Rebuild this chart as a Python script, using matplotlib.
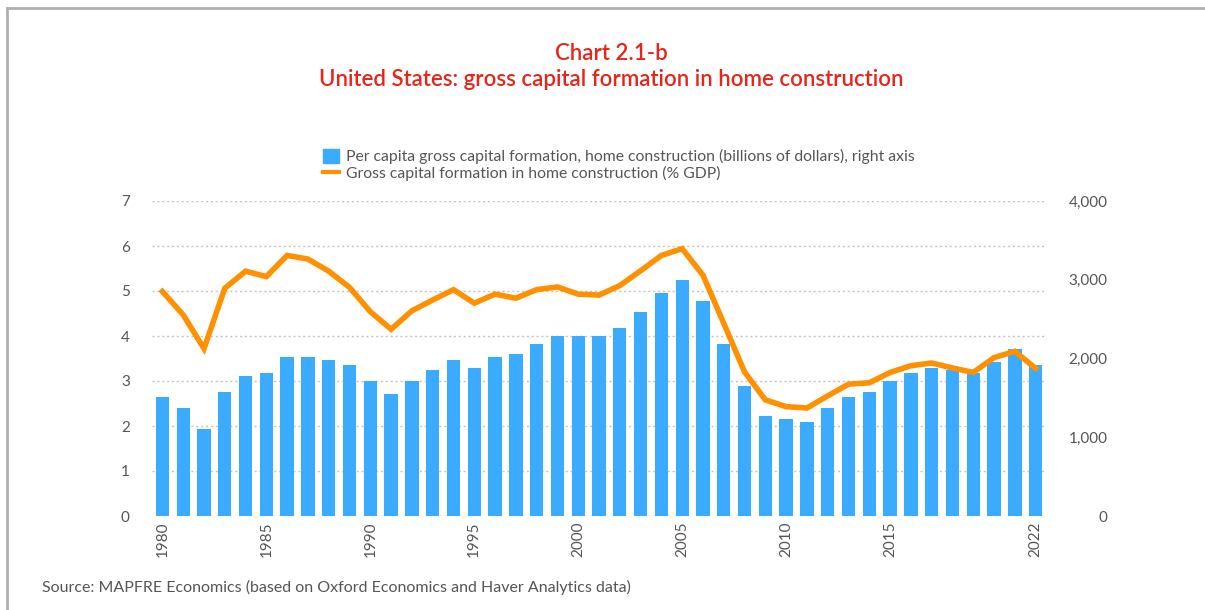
import numpy as np
import matplotlib.pyplot as plt
from matplotlib.lines import Line2D
from matplotlib.patches import Patch
from matplotlib.ticker import FuncFormatter

years = list(range(1980, 2023))
# per capita gross capital formation, home construction (right axis)
per_capita = [1506, 1366, 1099, 1570, 1774, 1812, 2017, 2017, 1978, 1915,
              1710, 1545, 1710, 1851, 1978, 1876, 2017, 2055, 2182, 2285,
              2285, 2285, 2387, 2591, 2834, 3000, 2732, 2183, 1647, 1264,
              1226, 1200, 1366, 1506, 1570, 1711, 1813, 1877, 1851, 1813,
              1953, 2119, 1915]
# gross capital formation in home construction, % GDP (left axis)
pct_gdp = [4.99, 4.47, 3.72, 5.06, 5.44, 5.32, 5.79, 5.71, 5.44, 5.08,
           4.54, 4.15, 4.56, 4.80, 5.03, 4.73, 4.93, 4.84, 5.03, 5.09,
           4.93, 4.91, 5.12, 5.45, 5.79, 5.94, 5.35, 4.28, 3.20, 2.58,
           2.43, 2.40, 2.67, 2.93, 2.96, 3.19, 3.34, 3.40, 3.29, 3.19,
           3.52, 3.66, 3.28]
xtick_years = [1980, 1985, 1990, 1995, 2000, 2005, 2010, 2015, 2022]

plt.rcParams['font.family'] = ['Lato', 'DejaVu Sans']

blue = '#3aabff'
orange = '#ff9000'
red = '#e8251b'
grey_txt = '#555555'

fig = plt.figure(figsize=(12.05, 6.10), dpi=100)
ax = fig.add_axes([152 / 1205, 1 - 516 / 610, (1045 - 152) / 1205, 315 / 610])
ax2 = ax.twinx()

ax2.bar(years, per_capita, width=0.64, color=blue, zorder=2)
ax.plot(years, pct_gdp, color=orange, lw=4, zorder=5, solid_joinstyle='miter')

# line axis drawn on top of bar axis
ax.set_zorder(ax2.get_zorder() + 1)
ax.patch.set_visible(False)

ax.set_xlim(1979.5, 2022.45)
ax.set_ylim(0, 7)
ax2.set_ylim(0, 4000)
ax.set_yticks(range(8))
ax2.set_yticks([0, 1000, 2000, 3000, 4000])
ax2.yaxis.set_major_formatter(FuncFormatter(lambda v, p: f'{int(v):,}'))
ax.set_xticks(xtick_years)
ax.set_xticklabels([str(y) for y in xtick_years], rotation=90)

for a in (ax, ax2):
    for s in a.spines.values():
        s.set_visible(False)
    a.tick_params(length=0, labelsize=11, colors=grey_txt)
ax.tick_params(axis='y', pad=16)
ax.tick_params(axis='x', pad=4)
for lab in ax2.get_yticklabels():
    lab.set_horizontalalignment('right')
ax2.tick_params(axis='y', pad=45)

for v in range(8):
    ax2.axhline(v * 4000 / 7, color='#c4c4c4', lw=1, ls=(0, (1.5, 2)), zorder=1)

fig.text(611 / 1205, 1 - 54 / 610, 'Chart 2.1-b', color=red, fontsize=16,
         ha='center', va='center', fontweight='semibold')
fig.text(611 / 1205, 1 - 80 / 610, 'United States: gross capital formation in home construction',
         color=red, fontsize=16, ha='center', va='center', fontweight='semibold')

handles = [Patch(color=blue), Line2D([], [], color=orange, lw=3)]
labels = ['Per capita gross capital formation, home construction (billions of dollars), right axis',
          'Gross capital formation in home construction (% GDP)']
fig.legend(handles, labels, loc='upper left', bbox_to_anchor=(315 / 1205, 1 - 141 / 610),
           frameon=False, fontsize=11.3, labelcolor=grey_txt, handlelength=1.0,
           handleheight=1.0, handletextpad=0.5, labelspacing=0.1, borderpad=0)

fig.text(42 / 1205, 1 - 587 / 610,
         'Source: MAPFRE Economics (based on Oxford Economics and Haver Analytics data)',
         color=grey_txt, fontsize=11.5, va='center')

# frame at top and left
fig.add_artist(Line2D([7 / 1205, 1], [1 - 7.5 / 610] * 2, color='#b0b0b0', lw=2,
                      transform=fig.transFigure))
fig.add_artist(Line2D([7 / 1205] * 2, [0, 1 - 7.5 / 610], color='#b0b0b0', lw=2,
                      transform=fig.transFigure))

fig.savefig('out.png', dpi=100, facecolor='white')
